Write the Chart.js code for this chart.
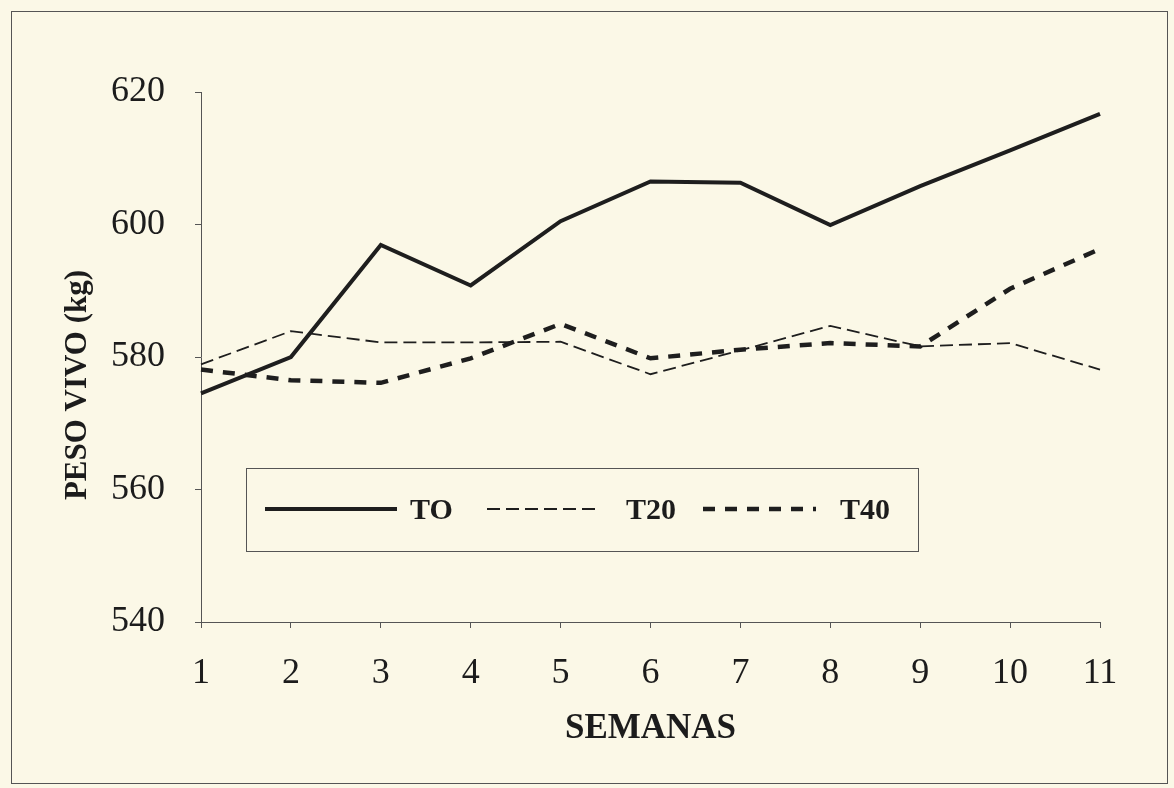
<!DOCTYPE html>
<html>
<head>
<meta charset="utf-8">
<script src="https://cdn.jsdelivr.net/npm/chart.js@4.4.1/dist/chart.umd.min.js"></script>
<style>
  html, body { margin: 0; padding: 0; background: #fbf8e7; }
  #wrap { position: relative; width: 1174px; height: 788px; }
</style>
</head>
<body>
<div id="wrap"><canvas id="pesoChart"></canvas></div>
<script>
var semanas = ['1', '2', '3', '4', '5', '6', '7', '8', '9', '10', '11'];
var pesoT0  = [574.5, 580.0, 596.9, 590.8, 600.5, 606.5, 606.3, 599.9, 605.8, 611.2, 616.7];
var pesoT20 = [578.9, 583.9, 582.2, 582.2, 582.3, 577.4, 581.0, 584.7, 581.6, 582.1, 578.1];
var pesoT40 = [578.1, 576.5, 576.1, 579.8, 585.0, 579.8, 581.1, 582.1, 581.6, 590.3, 596.3];
var yTicks  = [540, 560, 580, 600, 620];
var yTitle  = 'PESO VIVO (kg)';

Chart.defaults.font.family = "'Liberation Serif', 'Times New Roman', serif";
Chart.defaults.color = '#1c1c1c';

// frame around the whole figure + y title (sits a bit below axis middle)
var framePlugin = {
    id: 'frame',
    beforeDraw: function(chart) {
        var c = chart.ctx;
        c.save();
        c.fillStyle = '#fbf8e7';
        c.fillRect(0, 0, chart.width, chart.height);
        c.strokeStyle = '#555';
        c.lineWidth = 1;
        c.strokeRect(11.5, 11.5, chart.width - 18, chart.height - 16);
        c.restore();
    },
    afterDraw: function(chart) {
        var c = chart.ctx;
        var ca = chart.chartArea;
        c.save();
        c.translate(78, (ca.top + ca.bottom) / 2 + 28);
        c.rotate(-Math.PI / 2);
        c.font = "bold 31px 'Liberation Serif', serif";
        c.fillStyle = '#1c1c1c';
        c.textAlign = 'center';
        c.textBaseline = 'middle';
        c.fillText(yTitle, 0, 0);
        c.restore();
    }
};

// boxed legend inside the plot, lower left
var boxLegend = {
    id: 'boxLegend',
    afterDraw: function(chart) {
        var c = chart.ctx;
        var ca = chart.chartArea;
        var bx = ca.left + 45, by = ca.top + 376, bw = 672, bh = 83;
        c.save();
        c.strokeStyle = '#555';
        c.lineWidth = 1;
        c.strokeRect(bx + 0.5, by + 0.5, bw, bh);
        var items = [
            { x0: 19, x1: 151, tx: 164 },
            { x0: 241, x1: 352, tx: 380 },
            { x0: 457, x1: 570, tx: 594 }
        ];
        var cy = by + 41;
        chart.data.datasets.forEach(function(ds, i) {
            var it = items[i];
            c.beginPath();
            c.setLineDash(ds.borderDash || []);
            c.lineWidth = ds.borderWidth;
            c.strokeStyle = ds.borderColor;
            c.moveTo(bx + it.x0, cy);
            c.lineTo(bx + it.x1, cy);
            c.stroke();
            c.setLineDash([]);
            c.fillStyle = '#1c1c1c';
            c.font = "bold 30px 'Liberation Serif', serif";
            c.textBaseline = 'middle';
            c.fillText(ds.label, bx + it.tx, cy + 2);
        });
        c.restore();
    }
};

var ctx = document.getElementById('pesoChart');
var myChart = new Chart(ctx, {
    type: 'line',
    plugins: [framePlugin, boxLegend],
    data: {
        labels: semanas,
        datasets: [
            {
                label: 'TO',
                data: pesoT0,
                borderColor: '#1e1e1e',
                borderWidth: 4,
                pointRadius: 0,
                tension: 0
            },
            {
                label: 'T20',
                data: pesoT20,
                borderColor: '#1e1e1e',
                borderWidth: 1.8,
                borderDash: [13, 6],
                pointRadius: 0,
                tension: 0
            },
            {
                label: 'T40',
                data: pesoT40,
                borderColor: '#1e1e1e',
                borderWidth: 4.5,
                borderDash: [12, 10],
                pointRadius: 0,
                tension: 0
            }
        ]
    },
    options: {
        responsive: true,
        maintainAspectRatio: false,
        animation: false,
        layout: {
            padding: { left: 11, top: 92, right: 74, bottom: 0 }
        },
        plugins: {
            legend: { display: false },
            tooltip: { enabled: false }
        },
        scales: {
            x: {
                offset: false,
                border: { display: true, color: '#555', width: 1 },
                grid: {
                    drawOnChartArea: false,
                    drawTicks: true,
                    tickLength: 6,
                    color: '#555'
                },
                ticks: {
                    padding: 24,
                    maxRotation: 0,
                    font: { size: 36 },
                    color: '#1c1c1c'
                },
                title: {
                    display: true,
                    text: 'SEMANAS',
                    font: { size: 35, weight: 'bold' },
                    color: '#1c1c1c',
                    padding: { top: 0, bottom: 38 }
                },
                afterFit: function(scale) { scale.height = 166; }
            },
            y: {
                min: 540,
                max: 620,
                afterBuildTicks: function(scale) {
                    scale.ticks = yTicks.map(function(v) { return { value: v }; });
                },
                border: { display: true, color: '#555', width: 1 },
                grid: {
                    drawOnChartArea: false,
                    drawTicks: true,
                    tickLength: 6,
                    color: '#555'
                },
                ticks: {
                    padding: 30,
                    font: { size: 36 },
                    color: '#1c1c1c'
                },
                afterFit: function(scale) { scale.width = 190; }
            }
        }
    }
});
myChart.update();
</script>
</body>
</html>
